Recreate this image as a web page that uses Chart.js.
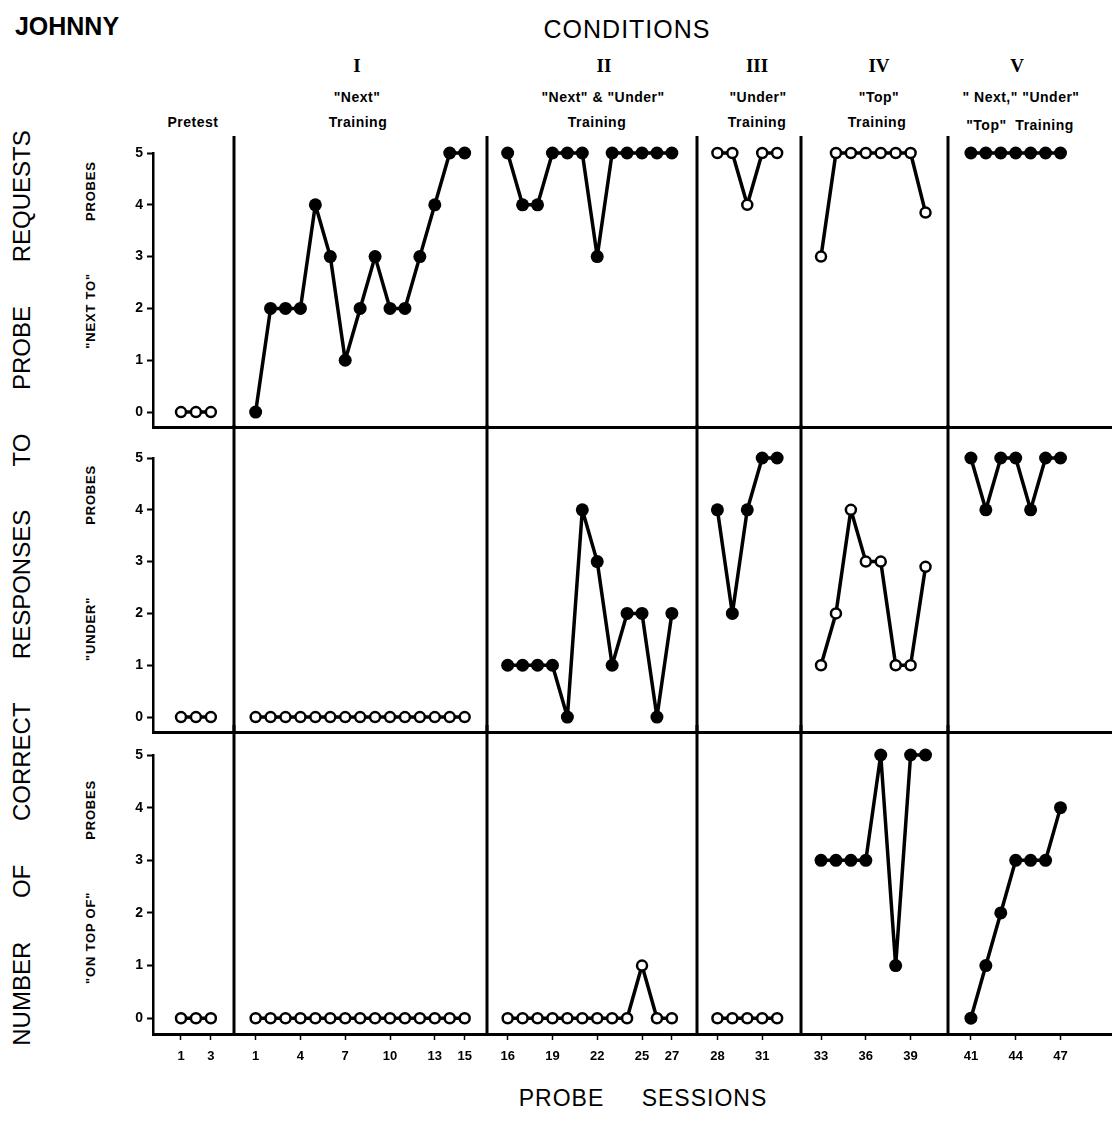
<!DOCTYPE html>
<html>
<head>
<meta charset="utf-8">
<script src="https://cdn.jsdelivr.net/npm/chart.js@4.4.1/dist/chart.umd.min.js"></script>
<style>
  body { margin: 0; background: #fff; width: 1112px; height: 1137px; position: relative; overflow: hidden;
         font-family: 'Liberation Sans', Arial, sans-serif; color: #000; }
  .panel { position: absolute; left: 0; width: 1112px; }
  .txt { position: absolute; white-space: nowrap; transform: translate(-50%, -50%); }
  .cond { font-weight: bold; font-size: 14px; letter-spacing: 0.5px; }
  .roman { font-family: 'Liberation Serif', serif; font-weight: bold; font-size: 19px; }
  .vert { transform: translate(-50%, -50%) rotate(-90deg); }
  .plabel { font-weight: bold; font-size: 13px; letter-spacing: 0.8px; }
</style>
</head>
<body>

<div class="txt" style="left:67px; top:26px; font-weight:bold; font-size:25px;">JOHNNY</div>
<div class="txt" style="left:627px; top:29px; font-size:25px; letter-spacing:1px;">CONDITIONS</div>

<div class="txt roman" style="left:357px; top:66px;">I</div>
<div class="txt roman" style="left:604px; top:66px;">II</div>
<div class="txt roman" style="left:757px; top:66px;">III</div>
<div class="txt roman" style="left:879px; top:66px;">IV</div>
<div class="txt roman" style="left:1017px; top:66px;">V</div>

<div class="txt cond" style="left:357px; top:97px;">"Next"</div>
<div class="txt cond" style="left:603px; top:97px;">"Next" &amp; "Under"</div>
<div class="txt cond" style="left:758px; top:97px;">"Under"</div>
<div class="txt cond" style="left:879px; top:97px;">"Top"</div>
<div class="txt cond" style="left:1021px; top:97px;">" Next," "Under"</div>

<div class="txt cond" style="left:193px; top:122px;">Pretest</div>
<div class="txt cond" style="left:358px; top:122px;">Training</div>
<div class="txt cond" style="left:597px; top:122px;">Training</div>
<div class="txt cond" style="left:757px; top:122px;">Training</div>
<div class="txt cond" style="left:877px; top:122px;">Training</div>
<div class="txt cond" style="left:1020px; top:125px;">"Top"&nbsp; Training</div>

<div class="txt vert" style="left:22px; top:588px; font-size:24px; word-spacing:37px;">NUMBER OF CORRECT RESPONSES TO PROBE REQUESTS</div>
<div class="txt vert plabel" style="left:90px; top:255px;">"NEXT TO"<span style="display:inline-block;width:52px"></span>PROBES</div>
<div class="txt vert plabel" style="left:90px; top:563px;">"UNDER"<span style="display:inline-block;width:72px"></span>PROBES</div>
<div class="txt vert plabel" style="left:90px; top:882px;">"ON TOP OF"<span style="display:inline-block;width:52px"></span>PROBES</div>

<div class="txt" style="left:643px; top:1098px; font-size:23px; letter-spacing:1px; word-spacing:30px;">PROBE SESSIONS</div>

<div class="panel" style="top:0px; height:440px;"><canvas id="nextChart" width="1112" height="440"></canvas></div>
<div class="panel" style="top:425px; height:320px;"><canvas id="underChart" width="1112" height="320"></canvas></div>
<div class="panel" style="top:725px; height:412px;"><canvas id="onTopChart" width="1112" height="412"></canvas></div>

<script>
// sessions per condition (Pretest, I, II, III, IV, V)
const pretestSessions = [1, 2, 3];
const condISessions = [1, 2, 3, 4, 5, 6, 7, 8, 9, 10, 11, 12, 13, 14, 15];
const condIISessions = [16, 17, 18, 19, 20, 21, 22, 23, 24, 25, 26, 27];
const condIIISessions = [28, 29, 30, 31, 32];
const condIVSessions = [33, 34, 35, 36, 37, 38, 39, 40];
const condVSessions = [41, 42, 43, 44, 45, 46, 47];
const allSessions = [pretestSessions, condISessions, condIISessions, condIIISessions, condIVSessions, condVSessions];

// "NEXT TO" probes
const nextToPre = [0, 0, 0];
const nextToI = [0, 2, 2, 2, 4, 3, 1, 2, 3, 2, 2, 3, 4, 5, 5];
const nextToII = [5, 4, 4, 5, 5, 5, 3, 5, 5, 5, 5, 5];
const nextToIII = [5, 5, 4, 5, 5];
const nextToIV = [3, 5, 5, 5, 5, 5, 5, 3.85];
const nextToV = [5, 5, 5, 5, 5, 5, 5];
const nextToFilled = [false, true, true, false, false, true];

// "UNDER" probes
const underPre = [0, 0, 0];
const underI = [0, 0, 0, 0, 0, 0, 0, 0, 0, 0, 0, 0, 0, 0, 0];
const underII = [1, 1, 1, 1, 0, 4, 3, 1, 2, 2, 0, 2];
const underIII = [4, 2, 4, 5, 5];
const underIV = [1, 2, 4, 3, 3, 1, 1, 2.9];
const underV = [5, 4, 5, 5, 4, 5, 5];
const underFilled = [false, false, true, true, false, true];

// "ON TOP OF" probes
const onTopPre = [0, 0, 0];
const onTopI = [0, 0, 0, 0, 0, 0, 0, 0, 0, 0, 0, 0, 0, 0, 0];
const onTopII = [0, 0, 0, 0, 0, 0, 0, 0, 0, 1, 0, 0];
const onTopIII = [0, 0, 0, 0, 0];
const onTopIV = [3, 3, 3, 3, 5, 1, 5, 5];
const onTopV = [0, 1, 2, 3, 3, 3, 4];
const onTopFilled = [false, false, false, false, true, true];

// tick labels under each condition
const pretestTicks = [1, 3];
const condITicks = [1, 4, 7, 10, 13, 15];
const condIITicks = [16, 19, 22, 25, 27];
const condIIITicks = [28, 31];
const condIVTicks = [33, 36, 39];
const condVTicks = [41, 44, 47];
const allTicks = [pretestTicks, condITicks, condIITicks, condIIITicks, condIVTicks, condVTicks];
const yTicks = [0, 1, 2, 3, 4, 5];

// layout: where each condition starts on the shared x axis, and the condition change lines
const phaseStart = [0, 5, 21.88, 35.93, 42.87, 52.91];
const phaseDividers = [3.55, 20.5, 34.56, 41.53, 51.37];
const xMin = -1.875, xMax = 62.36;

function toUnit(phase, session) {
    return phaseStart[phase] + session - allSessions[phase][0];
}

const tickList = [];
allTicks.forEach((list, p) => list.forEach(s => tickList.push({ value: toUnit(p, s), label: String(s) })));

const phaseLines = {
    id: 'phaseLines',
    beforeDatasetsDraw(chart, args, opts) {
        const ctx = chart.ctx;
        const area = chart.chartArea;
        const x = chart.scales.x;
        const top = opts.aboveArea ? area.top - 17 : 0;
        ctx.save();
        ctx.strokeStyle = '#000';
        ctx.lineWidth = 3;
        phaseDividers.forEach(u => {
            const px = Math.round(x.getPixelForValue(u));
            ctx.beginPath();
            ctx.moveTo(px, top);
            ctx.lineTo(px, area.bottom + 1);
            ctx.stroke();
        });
        ctx.restore();
    }
};

function makePanel(canvasId, series, filled, padTop, padBottom, showTicks) {
    const datasets = series.map((vals, p) => ({
        data: allSessions[p].map((s, k) => ({ x: toUnit(p, s), y: vals[k] })),
        borderColor: '#000',
        borderWidth: 3.5,
        borderJoinStyle: 'round',
        borderCapStyle: 'round',
        pointRadius: filled[p] ? 6.5 : 5,
        pointBackgroundColor: filled[p] ? '#000' : '#fff',
        pointBorderColor: '#000',
        pointBorderWidth: filled[p] ? 0 : 2.5,
        tension: 0,
        clip: false
    }));

    new Chart(document.getElementById(canvasId), {
        type: 'line',
        data: { datasets: datasets },
        options: {
            responsive: false,
            animation: false,
            events: [],
            layout: { autoPadding: false, padding: { top: padTop, bottom: padBottom, left: 0, right: 0 } },
            plugins: {
                legend: { display: false },
                tooltip: { enabled: false },
                phaseLines: { aboveArea: padTop > 100 }
            },
            scales: {
                x: {
                    type: 'linear',
                    min: xMin,
                    max: xMax,
                    afterBuildTicks: scale => { scale.ticks = tickList.map(t => ({ value: t.value })); },
                    afterFit: scale => { scale.height = showTicks ? 103 : 0; },
                    border: { display: true, color: '#000', width: 3 },
                    grid: { display: showTicks, drawOnChartArea: false, drawTicks: true, tickLength: 6, tickWidth: 1.5, tickColor: '#000' },
                    ticks: {
                        display: showTicks,
                        autoSkip: false,
                        maxRotation: 0,
                        padding: 9,
                        color: '#000',
                        font: { family: 'Liberation Sans', size: 13, weight: 'bold' },
                        callback: (v, i) => tickList[i] ? tickList[i].label : ''
                    }
                },
                y: {
                    min: -0.3,
                    max: 5,
                    afterBuildTicks: scale => { scale.ticks = yTicks.map(v => ({ value: v })); },
                    afterFit: scale => { scale.width = 153; },
                    border: { display: true, color: '#000', width: 2.5 },
                    grid: { drawOnChartArea: false, drawTicks: true, tickLength: 6, tickWidth: 2, tickColor: '#000' },
                    ticks: {
                        padding: 4,
                        color: '#000',
                        font: { family: 'Liberation Sans', size: 14, weight: 'bold' }
                    }
                }
            }
        },
        plugins: [phaseLines]
    });
}

makePanel('nextChart', [nextToPre, nextToI, nextToII, nextToIII, nextToIV, nextToV], nextToFilled, 153, 8, false);
makePanel('underChart', [underPre, underI, underII, underIII, underIV, underV], underFilled, 33, 12, false);
makePanel('onTopChart', [onTopPre, onTopI, onTopII, onTopIII, onTopIV, onTopV], onTopFilled, 30, 0, true);
</script>
</body>
</html>
